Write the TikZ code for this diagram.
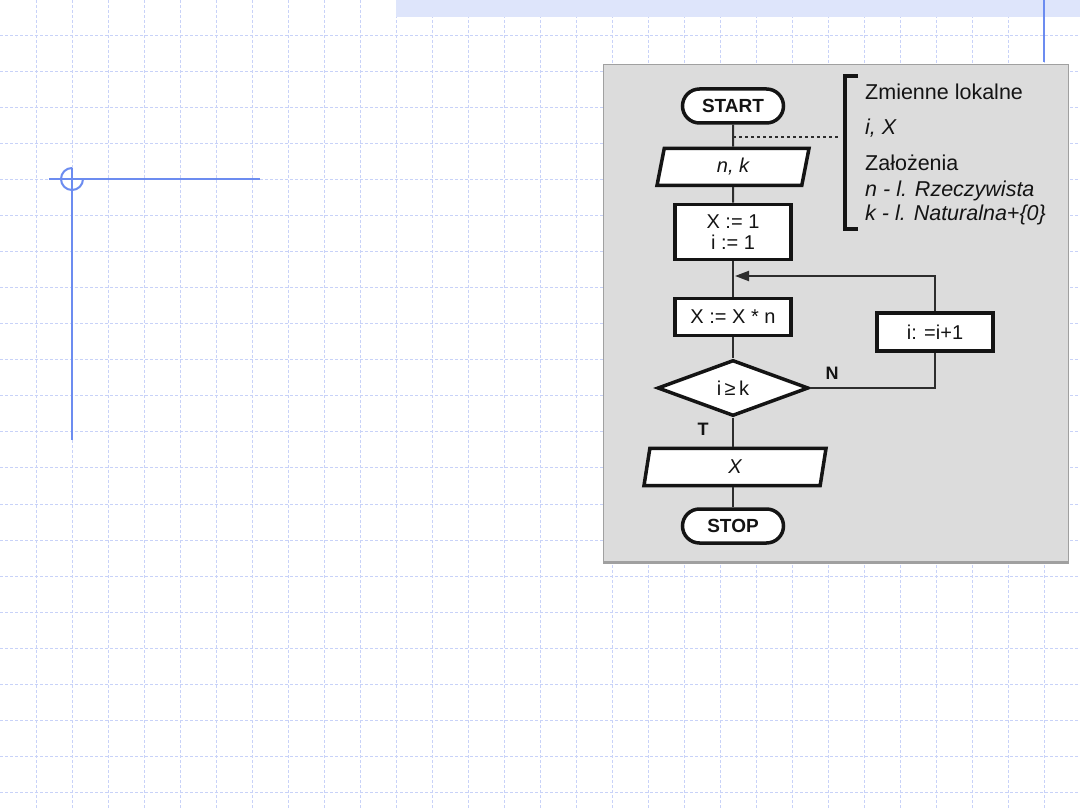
\documentclass[tikz,border=0pt]{standalone}
\usepackage{fontspec}
\setmainfont{Liberation Sans}
\usetikzlibrary{shapes.geometric,arrows.meta}
\definecolor{gridc}{RGB}{200,210,248}
\definecolor{bandc}{RGB}{222,229,251}
\definecolor{decoc}{RGB}{108,140,240}
\definecolor{panelc}{RGB}{220,220,220}
\definecolor{paneledge}{RGB}{160,160,160}
\definecolor{ink}{RGB}{20,20,20}
\definecolor{linec}{RGB}{45,45,45}
\tikzset{
  gridline/.style={draw=gridc, line width=1pt, dash pattern=on 3pt off 2pt},
  deco/.style={draw=decoc, line width=2pt},
  shp/.style={draw=ink, fill=white, line width=3.5pt, inner sep=0pt, text=ink},
  term/.style={shp, rounded corners=17pt, minimum width=101pt, minimum height=34pt, font=\bfseries\fontsize{19}{22}\selectfont},
  proc/.style={shp, minimum width=116pt, font=\fontsize{20}{24}\selectfont, align=center},
  io/.style={shp, trapezium, trapezium left angle=67, trapezium right angle=113, trapezium stretches body, minimum height=37pt, font=\itshape\fontsize{20}{24}\selectfont},
  dec/.style={shp, diamond, aspect=2.7, minimum width=151pt, minimum height=56pt, font=\fontsize{20}{24}\selectfont},
  conn/.style={draw=linec, line width=2pt},
  lbl/.style={font=\bfseries\fontsize{18}{22}\selectfont, text=ink, inner sep=0pt},
  side/.style={font=\fontsize{21.5}{24}\selectfont, text=ink, inner sep=0pt, anchor=west},
  sidei/.style={side, font=\itshape\fontsize{21.5}{24}\selectfont}
}
\begin{document}
\begin{tikzpicture}[x=1pt,y=-1pt]
\useasboundingbox (0,0) rectangle (1080,810);
\fill[white] (0,0) rectangle (1080,810);
% background grid
\foreach \x in {36,72,...,1044} \draw[gridline] (\x,0) -- (\x,810);
\foreach \y in {36,72,...,792} \draw[gridline] (0,\y) -- (1080,\y);
% top band and blue decorations
\fill[bandc] (396,0) rectangle (1080,17);
\draw[deco] (1044,0) -- (1044,62);
\draw[deco] (49,179) -- (260,179);
\draw[deco] (72,168) -- (72,440);
\draw[deco] (72,168) arc[start angle=270, end angle=0, radius=11];
% panel
\fill[panelc] (603,65) rectangle (1068,563);
\draw[paneledge, line width=1pt] (603,65) rectangle (1068,563);
\draw[paneledge, line width=2.5pt] (603,562) -- (1068,562);
% flowchart nodes
\node[term] (start) at (733,106) {START};
\node[io, minimum width=152pt] (nk) at (733,167) {n, k};
\node[proc, minimum height=55pt] (init) at (733,232) {X := 1\\[-3pt]i := 1};
\node[proc, minimum height=37pt] (mult) at (733,317) {X := X * n};
\node[dec] (cond) at (733,388) {i\,≥\,k};
\node[proc, minimum height=38pt] (inc) at (935,332) {i: =i+1};
\node[io, minimum width=182pt] (outx) at (735,467) {X};
\node[term] (stop) at (733,526) {STOP};
% connectors
\draw[conn] (start.south) -- (nk.north);
\draw[conn] (nk.south) -- (init.north);
\draw[conn] (init.south) -- (mult.north);
\draw[conn] (mult.south) -- (cond.north);
\draw[conn] (cond.south) -- (cond.south |- outx.north);
\draw[conn] (stop.north |- outx.south) -- (stop.north);
\coordinate (join) at (735,276);
\draw[conn] (cond.east) -| (inc.south);
\draw[conn, -{Triangle[length=14pt,width=10pt]}] (inc.north) |- (join);
\node[lbl] (nlab) at (832,373) {N};
\node[lbl] (tlab) at (703,429) {T};
% dotted link and bracket
\coordinate (dotL) at (733,137);
\coordinate (dotR) at (839,137);
\draw[draw=linec, line width=2pt, dash pattern=on 2.5pt off 3.5pt] (dotL) -- (dotR);
\draw[draw=ink, line width=4pt] (858,76) -- (845,76) -- (845,229) -- (858,229);
% side text
\node[side] (t1) at (865,92) {Zmienne lokalne};
\node[sidei] (t2) at (865,128) {i, X};
\node[side] (t3) at (865,163) {Założenia};
\node[sidei] (t4) at (865,191) {n - l. Rzeczywista};
\node[sidei] (t5) at (865,215) {k - l. Naturalna+\{0\}};
\end{tikzpicture}
\end{document}
